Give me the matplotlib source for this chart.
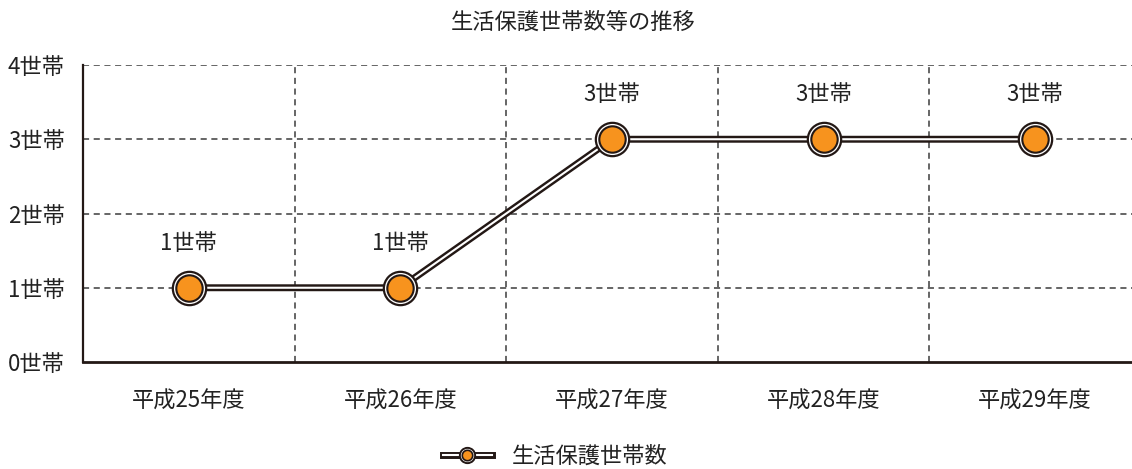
import numpy as np
import matplotlib.pyplot as plt
from matplotlib.lines import Line2D
from matplotlib.legend_handler import HandlerTuple

plt.rcParams['font.family'] = ['Noto Sans CJK JP', 'DejaVu Sans']

# data
years = ['平成25年度', '平成26年度', '平成27年度', '平成28年度', '平成29年度']
households = [1, 1, 3, 3, 3]
y_ticks = [0, 1, 2, 3, 4]
y_labels = ['0世帯', '1世帯', '2世帯', '3世帯', '4世帯']
series_name = '生活保護世帯数'
title = '生活保護世帯数等の推移'

dark = '#231815'
orange = '#F7931E'
grid_col = '#3c3c3c'
txt = '#222222'
fs = 16

fig = plt.figure(figsize=(11.32, 4.69), dpi=100)
W, H = 1132, 469
ax = fig.add_axes([83 / W, 1 - 362 / H, (1141 - 83) / W, (362 - 65) / H])

x = np.arange(len(years))

# double line: dark outer, white inner
ax.plot(x, households, color=dark, lw=5, solid_capstyle='butt', zorder=3)
ax.plot(x, households, color='white', lw=1.5, solid_capstyle='butt', zorder=4)
# marker layers
ax.plot(x, households, ls='none', marker='o', ms=24, mfc='white', mec=dark, mew=1.6, zorder=5)
ax.plot(x, households, ls='none', marker='o', ms=19, mfc=orange, mec=dark, mew=1.5, zorder=6)

for xi, v in zip(x, households):
    ax.annotate(f'{v}世帯', (xi, v), xytext=(0, 32), textcoords='offset points',
                ha='center', va='center', fontsize=fs, color=txt)

ax.set_xlim(-0.5, len(years) - 0.5)
ax.set_ylim(0, 4)
ax.set_xticks(x)
ax.set_xticklabels(years, fontsize=fs, color=txt)
ax.set_yticks(y_ticks)
ax.set_yticklabels(y_labels, fontsize=fs, color=txt)
ax.tick_params(axis='both', which='both', length=0)
ax.tick_params(axis='x', pad=20)
ax.tick_params(axis='y', pad=13)

for yv in y_ticks[1:]:
    ax.axhline(yv, color=grid_col, lw=1.1, ls=(0, (4, 3)), zorder=1)
for xv in np.arange(0.5, len(years) - 0.5, 1):
    ax.axvline(xv, color=grid_col, lw=1.1, ls=(0, (4, 3)), zorder=1)

for s in ['top', 'right']:
    ax.spines[s].set_visible(False)
ax.spines['left'].set_color(dark)
ax.spines['left'].set_linewidth(1.6)
ax.spines['bottom'].set_color(dark)
ax.spines['bottom'].set_linewidth(2)

fig.text(573 / W, 1 - 22 / H, title, ha='center', va='center', fontsize=fs, color=txt)

h1 = Line2D([], [], color=dark, lw=5)
h2 = Line2D([], [], color='white', lw=1.5)
h3 = Line2D([], [], ls='none', marker='o', ms=11, mfc='white', mec=dark, mew=1.4)
h4 = Line2D([], [], ls='none', marker='o', ms=7.5, mfc=orange, mec=dark, mew=1.2)
fig.legend([(h1, h2, h3, h4)], [series_name], handler_map={tuple: HandlerTuple(ndivide=1, pad=0)},
           loc='center', bbox_to_anchor=(555 / W, 1 - 456 / H), frameon=False,
           fontsize=fs, handlelength=2.2, handletextpad=0.9, labelcolor=txt)

fig.savefig('out.png', dpi=100)
